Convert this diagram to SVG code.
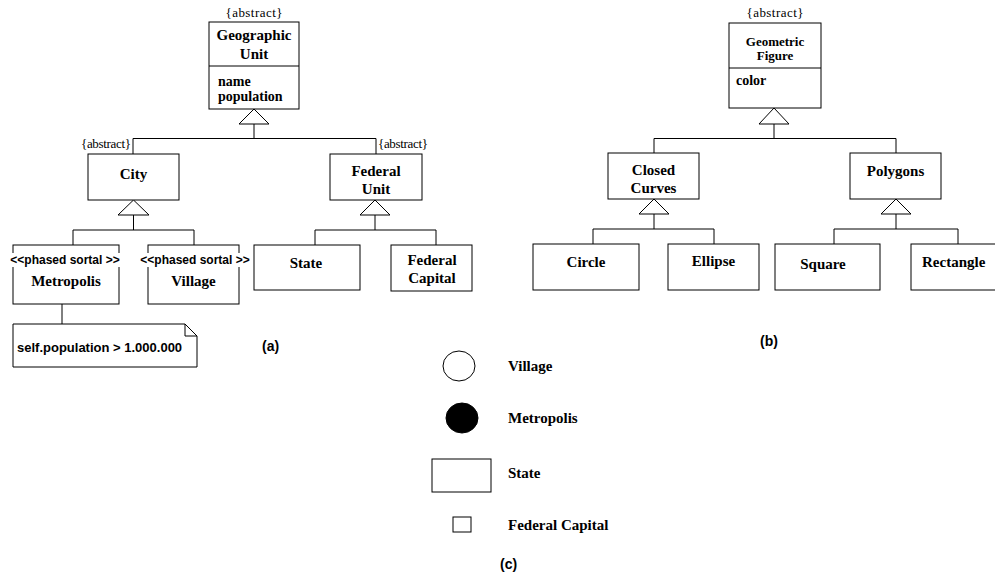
<svg xmlns="http://www.w3.org/2000/svg" width="995" height="577" viewBox="0 0 995 577">
<style>
.box{fill:#fff;stroke:#000;stroke-width:1}
.ln{fill:none;stroke:#000;stroke-width:1}
.tri{fill:#fff;stroke:#000;stroke-width:1}
.cn{font-family:"Liberation Serif",serif;font-weight:bold;font-size:15px;text-anchor:middle;fill:#000}
.cs{font-family:"Liberation Serif",serif;font-weight:bold;font-size:13px;text-anchor:middle;fill:#000}
.cl{font-family:"Liberation Serif",serif;font-weight:bold;font-size:15px;fill:#000}
.at{font-family:"Liberation Serif",serif;font-weight:bold;font-size:14px;fill:#000}
.ab{font-family:"Liberation Serif",serif;font-size:13px;fill:#000}
.st{font-family:"Liberation Sans",sans-serif;font-weight:bold;font-size:12px;text-anchor:middle;fill:#000}
.lb{font-family:"Liberation Sans",sans-serif;font-weight:bold;font-size:14px;fill:#000}
.lg{font-family:"Liberation Serif",serif;font-weight:bold;font-size:15px;fill:#000}
</style>
<rect width="995" height="577" fill="#fff"/>
<g id="connectors">
<polyline class="ln" points="254,124 254,138.5"/>
<polyline class="ln" points="133,154 133,138.5 376,138.5 376,154"/>
<polygon class="tri" points="254,109 239,124 269,124"/>
<polyline class="ln" points="133.5,215 133.5,230"/>
<polyline class="ln" points="73,245 73,230 194,230 194,245"/>
<polygon class="tri" points="133.5,200 118,215 149,215"/>
<polyline class="ln" points="375,215 375,230"/>
<polyline class="ln" points="315,245 315,230 436,230 436,245"/>
<polygon class="tri" points="375,200 360,215 390,215"/>
<line class="ln" x1="62" y1="304" x2="62" y2="324"/>
<polyline class="ln" points="774,124 774,138.5"/>
<polyline class="ln" points="654,153 654,138.5 896,138.5 896,153"/>
<polygon class="tri" points="774,108 759,124 789,124"/>
<polyline class="ln" points="654,214 654,229"/>
<polyline class="ln" points="593,244 593,229 714,229 714,244"/>
<polygon class="tri" points="654,199 639,214 669,214"/>
<polyline class="ln" points="896,214 896,229"/>
<polyline class="ln" points="834,244 834,229 958,229 958,244"/>
<polygon class="tri" points="896,199 881,214 911,214"/>
</g>
<g id="geographic-unit">
<text class="ab" x="254" y="17" text-anchor="middle" textLength="57">{abstract}</text>
<rect class="box" x="209" y="22" width="90" height="87"/>
<line class="ln" x1="209" y1="66" x2="299" y2="66"/>
<text class="cn" x="254" y="40" font-size="16">Geographic</text>
<text class="cn" x="254" y="59" font-size="16">Unit</text>
<text class="at" x="218" y="86">name</text>
<text class="at" x="218" y="101">population</text>
</g>
<g id="city">
<text class="ab" x="131" y="148" text-anchor="end" textLength="50">{abstract}</text>
<rect class="box" x="88" y="154" width="91" height="46"/>
<text class="cn" x="133.5" y="179">City</text>
</g>
<g id="federal-unit">
<text class="ab" x="378" y="148" textLength="50">{abstract}</text>
<rect class="box" x="330" y="154" width="92" height="46"/>
<text class="cn" x="376" y="176">Federal</text>
<text class="cn" x="376" y="194">Unit</text>
</g>
<g id="metropolis">
<rect class="box" x="13" y="245" width="106" height="59"/>
<rect x="8" y="253" width="114" height="14" fill="#fff"/>
<text class="st" x="65" y="264">&lt;&lt;phased sortal &gt;&gt;</text>
<text class="cn" x="66" y="286">Metropolis</text>
</g>
<g id="village">
<rect class="box" x="148" y="245" width="91" height="59"/>
<rect x="139" y="253" width="113" height="14" fill="#fff"/>
<text class="st" x="195" y="264">&lt;&lt;phased sortal &gt;&gt;</text>
<text class="cn" x="193.5" y="286">Village</text>
</g>
<g id="state">
<rect class="box" x="254" y="245" width="106" height="45"/>
<text class="cn" x="306" y="268">State</text>
</g>
<g id="federal-capital">
<rect class="box" x="391" y="245" width="81" height="46"/>
<text class="cn" x="432" y="265">Federal</text>
<text class="cn" x="432" y="283">Capital</text>
</g>
<g id="note">
<path class="box" d="M13,324 H185 L197,336 V367 H13 Z"/>
<polyline class="ln" points="185,324 185,336 197,336"/>
<text x="17" y="352" font-family="Liberation Sans, sans-serif" font-weight="bold" font-size="13">self.population &gt; 1.000.000</text>
</g>
<text class="lb" x="262" y="351">(a)</text>
<g id="geometric-figure">
<text class="ab" x="775" y="17" text-anchor="middle" textLength="57">{abstract}</text>
<rect class="box" x="729" y="23" width="92" height="85"/>
<line class="ln" x1="729" y1="68" x2="821" y2="68"/>
<text class="cs" x="775" y="46">Geometric</text>
<text class="cs" x="775" y="60">Figure</text>
<text class="at" x="736" y="85" font-size="13">color</text>
</g>
<g id="closed-curves">
<rect class="box" x="608" y="153" width="91" height="46"/>
<text class="cn" x="653.5" y="175">Closed</text>
<text class="cn" x="653.5" y="193">Curves</text>
</g>
<g id="polygons">
<rect class="box" x="850" y="153" width="91" height="46"/>
<text class="cn" x="895.5" y="176">Polygons</text>
</g>
<g id="circle">
<rect class="box" x="533" y="244" width="106" height="46"/>
<text class="cn" x="586" y="267">Circle</text>
</g>
<g id="ellipse">
<rect class="box" x="668" y="244" width="91" height="46"/>
<text class="cn" x="713.5" y="266">Ellipse</text>
</g>
<g id="square">
<rect class="box" x="775" y="244" width="105" height="46"/>
<text class="cn" x="823" y="269">Square</text>
</g>
<g id="rectangle">
<rect class="box" x="911" y="244" width="95" height="46"/>
<text class="cl" x="922" y="267">Rectangle</text>
</g>
<text class="lb" x="760" y="346">(b)</text>
<g id="legend">
<ellipse cx="459" cy="366" rx="16" ry="15" fill="#fff" stroke="#000"/>
<text class="lg" x="508" y="371">Village</text>
<ellipse cx="462" cy="418" rx="16" ry="15" fill="#000" stroke="#000"/>
<text class="lg" x="508" y="423">Metropolis</text>
<rect class="box" x="432" y="459" width="59" height="33"/>
<text class="lg" x="508" y="478">State</text>
<rect class="box" x="453" y="517" width="18" height="15"/>
<text class="lg" x="508" y="530">Federal Capital</text>
<text class="lb" x="500" y="569">(c)</text>
</g>
</svg>
